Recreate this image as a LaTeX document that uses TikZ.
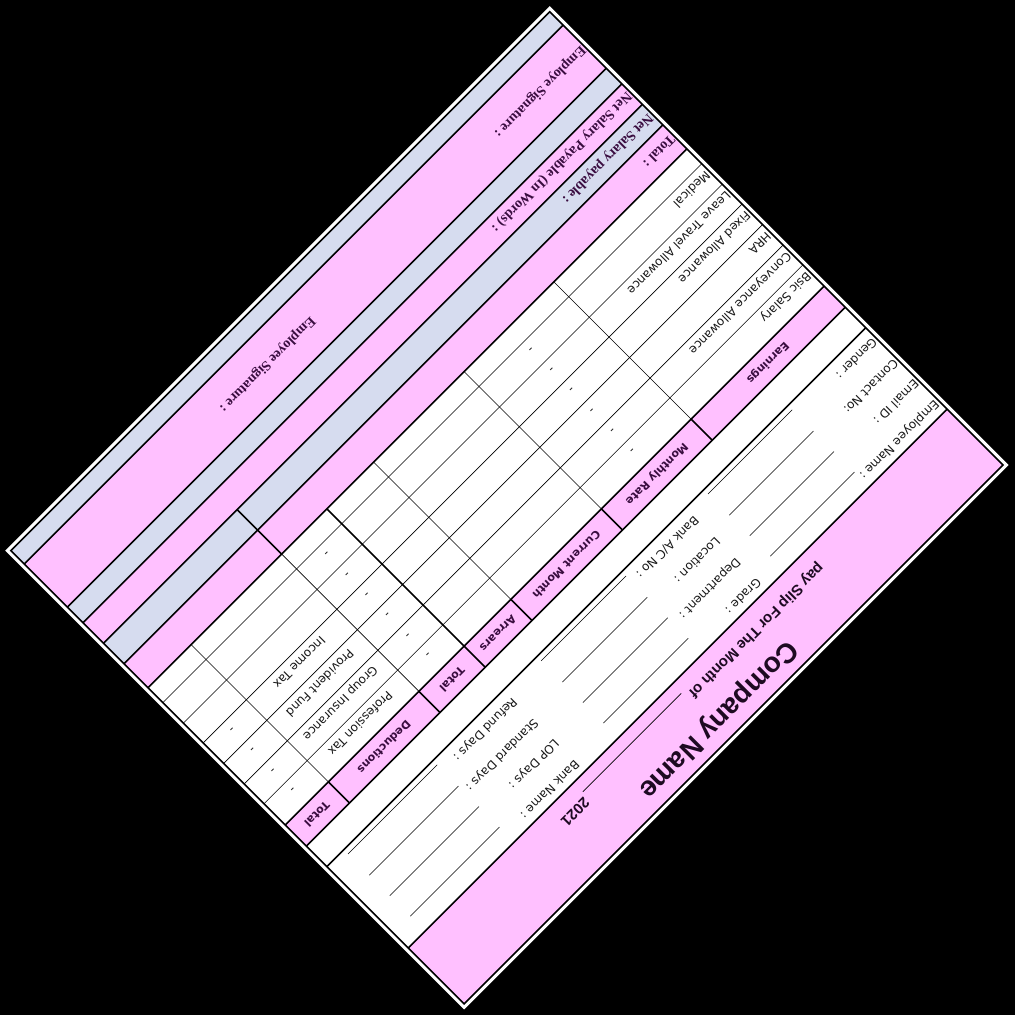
\documentclass[tikz,border=0pt]{standalone}
\usepackage{fontspec}
\setmainfont{DejaVu Sans}
\newfontfamily\slipserif{Liberation Serif}
\newfontfamily\sliparial{Liberation Sans}
\definecolor{slippink}{HTML}{FFC0FF}
\definecolor{slipblue}{HTML}{D6DCEF}
\definecolor{slipink}{HTML}{3A0D40}
\definecolor{titleink}{HTML}{1E0A22}
\tikzset{
  field/.style={anchor=base west, inner sep=0pt, text=black!90, font=\fontsize{12}{14}\selectfont},
  cellval/.style={anchor=base, inner sep=0pt, text=black!90, font=\fontsize{12}{14}\selectfont},
  colhead/.style={anchor=base, inner sep=0pt, text=slipink, font=\fontsize{11}{13}\selectfont\bfseries},
  sumrow/.style={anchor=base west, inner sep=0pt, text=slipink, font=\slipserif\fontsize{14}{16}\selectfont\bfseries},
  rule/.style={line width=1.6pt},
  gridline/.style={line width=0.6pt},
}
\begin{document}
\begin{tikzpicture}[x=1pt,y=1pt]
\fill[black] (0,0) rectangle (1015,-1015);
\useasboundingbox (0,0) rectangle (1015,-1015);
\begin{scope}[shift={(1010,-465)}, rotate=225, transform shape]
% page edge
\fill[white] (1,-1) rectangle (771,-650);
% coloured bands
\fill[slippink] (5,-5) rectangle (767,-84);
\fill[slippink] (5,-228) rectangle (767,-258);
\fill[slippink] (5,-452) rectangle (767,-486);
\fill[slipblue] (5,-486) rectangle (767,-515);
\fill[slippink] (5,-515) rectangle (767,-544);
\fill[slipblue] (5,-544) rectangle (767,-566);
\fill[slippink] (5,-566) rectangle (767,-627);
\fill[slipblue] (5,-627) rectangle (767,-646);
% header
\node[anchor=base, inner sep=0pt, text=titleink, font=\sliparial\fontsize{28}{30}\selectfont\bfseries] (company) at (386,-34) {Company Name};
\node[anchor=base west, inner sep=0pt, text=titleink, font=\sliparial\fontsize{15}{17}\selectfont\bfseries] (payslip) at (204,-67) {pay Slip For The Month of};
\node[anchor=base west, inner sep=0pt, text=titleink, font=\sliparial\fontsize{15}{17}\selectfont\bfseries] (year) at (536,-67) {2021};
\draw[gridline] (394,-71) -- (533,-71);
% employee details
\node[field] (empname) at (7,-100) {Employee Name :};
\node[field] (email) at (7,-129) {Email ID :};
\node[field] (contact) at (7,-158) {Contact No:};
\node[field] (gender) at (7,-188) {Gender :};
\node[field] (grade) at (259,-100) {Grade :};
\node[field] (dept) at (259,-129) {Department :};
\node[field] (location) at (259,-158) {Location :};
\node[field] (bankac) at (259,-188) {Bank A/C No :};
\node[field] (bankname) at (516,-100) {Bank Name :};
\node[field] (lopdays) at (516,-129) {LOP Days :};
\node[field] (stddays) at (516,-158) {Standard Days :};
\node[field] (refdays) at (516,-188) {Refund Days :};
\draw[gridline] (115,-105) -- (234,-105);
\draw[gridline] (115,-134) -- (234,-134);
\draw[gridline] (115,-163) -- (234,-163);
\draw[gridline] (115,-193) -- (234,-193);
\draw[gridline] (350,-105) -- (470,-105);
\draw[gridline] (350,-134) -- (470,-134);
\draw[gridline] (350,-163) -- (470,-163);
\draw[gridline] (350,-193) -- (470,-193);
\draw[gridline] (617,-105) -- (743,-105);
\draw[gridline] (617,-134) -- (743,-134);
\draw[gridline] (617,-163) -- (743,-163);
\draw[gridline] (617,-193) -- (743,-193);
% column heads
\node[colhead] (hearn) at (99,-247) {Earnings};
\node[colhead] (hrate) at (256,-247) {Monthly Rate};
\node[colhead] (hcur) at (384,-247) {Current Month};
\node[colhead] (harr) at (481,-247) {Arrears};
\node[colhead] (htot) at (546,-247) {Total};
\node[colhead] (hded) at (642,-247) {Deductions};
\node[colhead] (hdtot) at (737,-247) {Total};
% earnings rows
\node[field] (basic) at (7,-281) {Bsic Salary};
\node[field] (conv) at (7,-309) {Conveyance Allowance};
\node[field] (hra) at (7,-338) {HRA};
\node[field] (fixed) at (7,-367) {Fixed Allowance};
\node[field] (lta) at (7,-395) {Leave Travel Allowance};
\node[field] (medical) at (7,-424) {Medical};
\node[cellval] (rate1) at (257,-281) {-};
\node[cellval] (rate2) at (257,-309) {-};
\node[cellval] (rate3) at (257,-338) {-};
\node[cellval] (rate4) at (257,-367) {-};
\node[cellval] (rate5) at (257,-395) {-};
\node[cellval] (rate6) at (257,-424) {-};
\node[cellval] (etot1) at (546,-281) {-};
\node[cellval] (etot2) at (546,-309) {-};
\node[cellval] (etot3) at (546,-338) {-};
\node[cellval] (etot4) at (546,-367) {-};
\node[cellval] (etot5) at (546,-395) {-};
\node[cellval] (etot6) at (546,-424) {-};
% deduction rows
\node[cellval] (ptax) at (642,-281) {Profession Tax};
\node[cellval] (ginsure) at (642,-309) {Group Insurance};
\node[cellval] (pfund) at (642,-338) {Provident Fund};
\node[cellval] (itax) at (642,-367) {Income Tax};
\node[cellval] (dtot1) at (737,-281) {-};
\node[cellval] (dtot2) at (737,-309) {-};
\node[cellval] (dtot3) at (737,-338) {-};
\node[cellval] (dtot4) at (737,-367) {-};
% totals and signature
\node[sumrow] (total) at (7,-474) {Total :};
\node[sumrow] (netpay) at (7,-505) {Net Salary payable :};
\node[sumrow] (networds) at (7,-535) {Net Salary Payable (In Words) :};
\node[sumrow] (signleft) at (7,-600) {Employe Signature :};
\node[sumrow, anchor=base] (signmid) at (454,-600) {Employee Signature :};
% grid
\draw[gridline] (5,-288) -- (767,-288);
\draw[gridline] (5,-316) -- (767,-316);
\draw[gridline] (5,-345) -- (767,-345);
\draw[gridline] (5,-374) -- (767,-374);
\draw[gridline] (5,-402) -- (767,-402);
\draw[gridline] (5,-431) -- (767,-431);
\draw[gridline] (193,-258) -- (193,-452);
\draw[gridline] (320,-258) -- (320,-452);
\draw[gridline] (448,-258) -- (448,-452);
\draw[gridline] (578,-258) -- (578,-452);
\draw[gridline] (706,-258) -- (706,-452);
\draw[rule] (514,-258) -- (514,-452);
\draw[rule] (193,-228) -- (193,-258);
\draw[rule] (320,-228) -- (320,-258);
\draw[rule] (448,-228) -- (448,-258);
\draw[rule] (514,-228) -- (514,-258);
\draw[rule] (578,-228) -- (578,-258);
\draw[rule] (706,-228) -- (706,-258);
\draw[rule] (578,-452) -- (578,-515);
% section rules
\draw[rule] (5,-84) -- (767,-84);
\draw[rule] (5,-199) -- (767,-199);
\draw[rule] (5,-228) -- (767,-228);
\draw[rule] (5,-258) -- (767,-258);
\draw[rule] (5,-452) -- (767,-452);
\draw[rule] (5,-486) -- (767,-486);
\draw[rule] (5,-515) -- (767,-515);
\draw[rule] (5,-544) -- (767,-544);
\draw[rule] (5,-566) -- (767,-566);
\draw[rule] (5,-627) -- (767,-627);
\draw[rule] (5,-5) rectangle (767,-646);
\end{scope}
\end{tikzpicture}
\end{document}
